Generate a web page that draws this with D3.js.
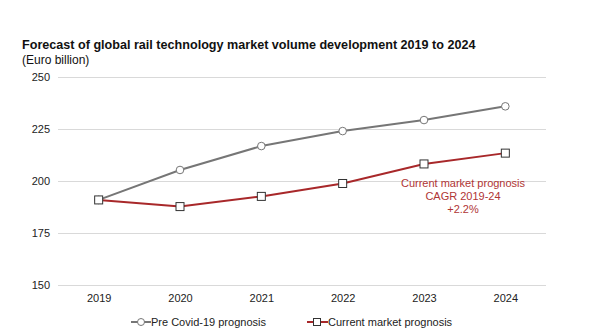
<!DOCTYPE html>
<html>
<head>
<meta charset="utf-8">
<script src="https://cdn.jsdelivr.net/npm/d3@7"></script>
<style>
  body { margin: 0; background: #fff; }
  svg { font-family: "Liberation Sans", Arial, sans-serif; }
</style>
</head>
<body>
<svg id="chart" width="598" height="336"></svg>
<script>
// chart data
var years = ["2019", "2020", "2021", "2022", "2023", "2024"];
var preCovid = [190.9, 205.3, 216.8, 224.0, 229.3, 235.9];
var current = [190.9, 187.7, 192.6, 198.8, 208.2, 213.4];
var yTicks = [150, 175, 200, 225, 250];

var svg = d3.select("#chart"),
    plotLeft = 58, plotRight = 546, plotTop = 77, plotBottom = 285;

var x = d3.scalePoint().domain(years).range([plotLeft, plotRight]).padding(0.5);
var y = d3.scaleLinear().domain([150, 250]).range([plotBottom, plotTop]);

svg.append("text").attr("x", 22).attr("y", 49)
    .style("font-size", "12.6px").style("font-weight", "bold").attr("fill", "#111")
    .text("Forecast of global rail technology market volume development 2019 to 2024");
svg.append("text").attr("x", 22).attr("y", 64)
    .style("font-size", "12px").attr("fill", "#111")
    .text("(Euro billion)");

// gridlines + y labels
var yAxis = svg.append("g").attr("transform", "translate(" + plotLeft + ",0)")
    .call(d3.axisLeft(y).tickValues(yTicks).tickSize(-(plotRight - plotLeft)).tickPadding(8));
yAxis.select(".domain").remove();
yAxis.selectAll("line").attr("stroke", "#d9d9d9");
yAxis.selectAll("text").style("font-size", "11px").attr("fill", "#222")
    .attr("font-family", "Liberation Sans, Arial, sans-serif");

var xAxis = svg.append("g").attr("transform", "translate(0," + plotBottom + ")")
    .call(d3.axisBottom(x).tickSize(0).tickPadding(9));
xAxis.select(".domain").remove();
xAxis.selectAll("text").style("font-size", "11px").attr("fill", "#222")
    .attr("font-family", "Liberation Sans, Arial, sans-serif");

var line = d3.line().x(function (d, i) { return x(years[i]); }).y(function (d) { return y(d); });

svg.append("path").datum(preCovid).attr("d", line)
    .attr("fill", "none").attr("stroke", "#767676").attr("stroke-width", 2);
svg.append("path").datum(current).attr("d", line)
    .attr("fill", "none").attr("stroke", "#a8282a").attr("stroke-width", 2);

svg.selectAll(".pre").data(preCovid).enter().append("circle")
    .attr("cx", function (d, i) { return x(years[i]); })
    .attr("cy", function (d) { return y(d); })
    .attr("r", 3.8).attr("fill", "#fff").attr("stroke", "#767676").attr("stroke-width", 1);

svg.selectAll(".cur").data(current).enter().append("rect")
    .attr("x", function (d, i) { return x(years[i]) - 4; })
    .attr("y", function (d) { return y(d) - 4; })
    .attr("width", 8).attr("height", 8)
    .attr("fill", "#fff").attr("stroke", "#333").attr("stroke-width", 1);

// annotation
var note = svg.append("text").attr("text-anchor", "middle")
    .style("font-size", "11px").attr("fill", "#b03535");
["Current market prognosis", "CAGR 2019-24", "+2.2%"].forEach(function (t, i) {
    note.append("tspan").attr("x", 463).attr("y", 187 + i * 13).text(t);
});

// legend
var lg = svg.append("g").attr("transform", "translate(0,322)");
lg.append("line").attr("x1", 131).attr("x2", 151).attr("stroke", "#767676").attr("stroke-width", 2);
lg.append("circle").attr("cx", 141).attr("r", 3.5).attr("fill", "#fff").attr("stroke", "#767676");
lg.append("text").attr("x", 151).attr("y", 4).style("font-size", "11px").attr("fill", "#222")
    .text("Pre Covid-19 prognosis");
lg.append("line").attr("x1", 307).attr("x2", 328).attr("stroke", "#a8282a").attr("stroke-width", 2);
lg.append("rect").attr("x", 313.5).attr("y", -3.5).attr("width", 7).attr("height", 7)
    .attr("fill", "#fff").attr("stroke", "#333");
lg.append("text").attr("x", 328).attr("y", 4).style("font-size", "11px").attr("fill", "#222")
    .text("Current market prognosis");
</script>
</body>
</html>
